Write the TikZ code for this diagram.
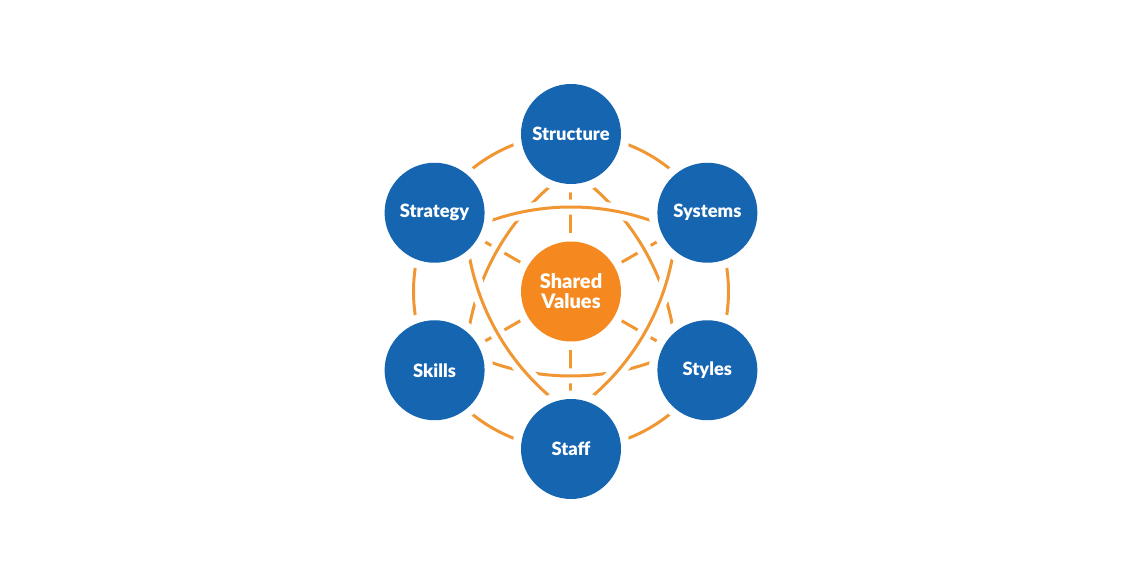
\documentclass[tikz,border=0pt]{standalone}
\usepackage{fontspec}
\setmainfont{Lato}[BoldFont={Lato Black}]
\usetikzlibrary{backgrounds}
\definecolor{nodeblue}{RGB}{21,101,176}
\definecolor{coreorange}{RGB}{245,137,31}
\definecolor{lineorange}{RGB}{240,150,50}
\begin{document}
\begin{tikzpicture}[x=1pt,y=1pt,
  element/.style={circle, fill=nodeblue, minimum size=100pt, inner sep=0pt,
    text=white, font=\bfseries\fontsize{18.3}{20}\selectfont, align=center,
    preaction={draw=white, line width=17pt}},
  core/.style={element, fill=coreorange, font=\bfseries\fontsize{20}{20}\selectfont},
  link/.style={draw=lineorange, line width=3pt},
  haloed/.style={link, preaction={draw=white, line width=15pt}},
]
\useasboundingbox (-571,-275.5) rectangle (575,291.5);

\node[core] (values) at (0,0) {Shared\\Values};
\node[element] (structure) at (90:157.5pt) {Structure};
\node[element] (systems) at (30:157.5pt) {Systems};
\node[element] (styles) at (-30:157.5pt) {Styles};
\node[element] (staff) at (-90:157.5pt) {Staff};
\node[element] (skills) at (210:157.5pt) {Skills};
\node[element] (strategy) at (150:157.5pt) {Strategy};

\begin{scope}[on background layer]
  % outer ring
  \draw[link] (values.center) circle[radius=157.5pt];
  % radial spokes
  \foreach \n in {structure,systems,styles,staff,skills,strategy}
    \draw[link] (values) -- (\n);
  % arc start points
  \path (structure.center) ++(240:242pt) coordinate (u1);
  \path (styles.center) ++(120:242pt) coordinate (u2);
  \path (skills.center) ++(0:242pt) coordinate (u3);
  \path (staff.center) ++(60:242pt) coordinate (o1);
  \path (systems.center) ++(180:242pt) coordinate (o2);
  \path (strategy.center) ++(300:242pt) coordinate (o3);
  % woven arcs, lower set
  \draw[haloed] (u1) arc[start angle=240, end angle=300, radius=242pt];
  \draw[haloed] (u2) arc[start angle=120, end angle=180, radius=242pt];
  \draw[haloed] (u3) arc[start angle=0, end angle=60, radius=242pt];
  % woven arcs, upper set
  \draw[haloed] (o1) arc[start angle=60, end angle=120, radius=242pt];
  \draw[haloed] (o2) arc[start angle=180, end angle=240, radius=242pt];
  \draw[haloed] (o3) arc[start angle=300, end angle=360, radius=242pt];
\end{scope}
\end{tikzpicture}
\end{document}
